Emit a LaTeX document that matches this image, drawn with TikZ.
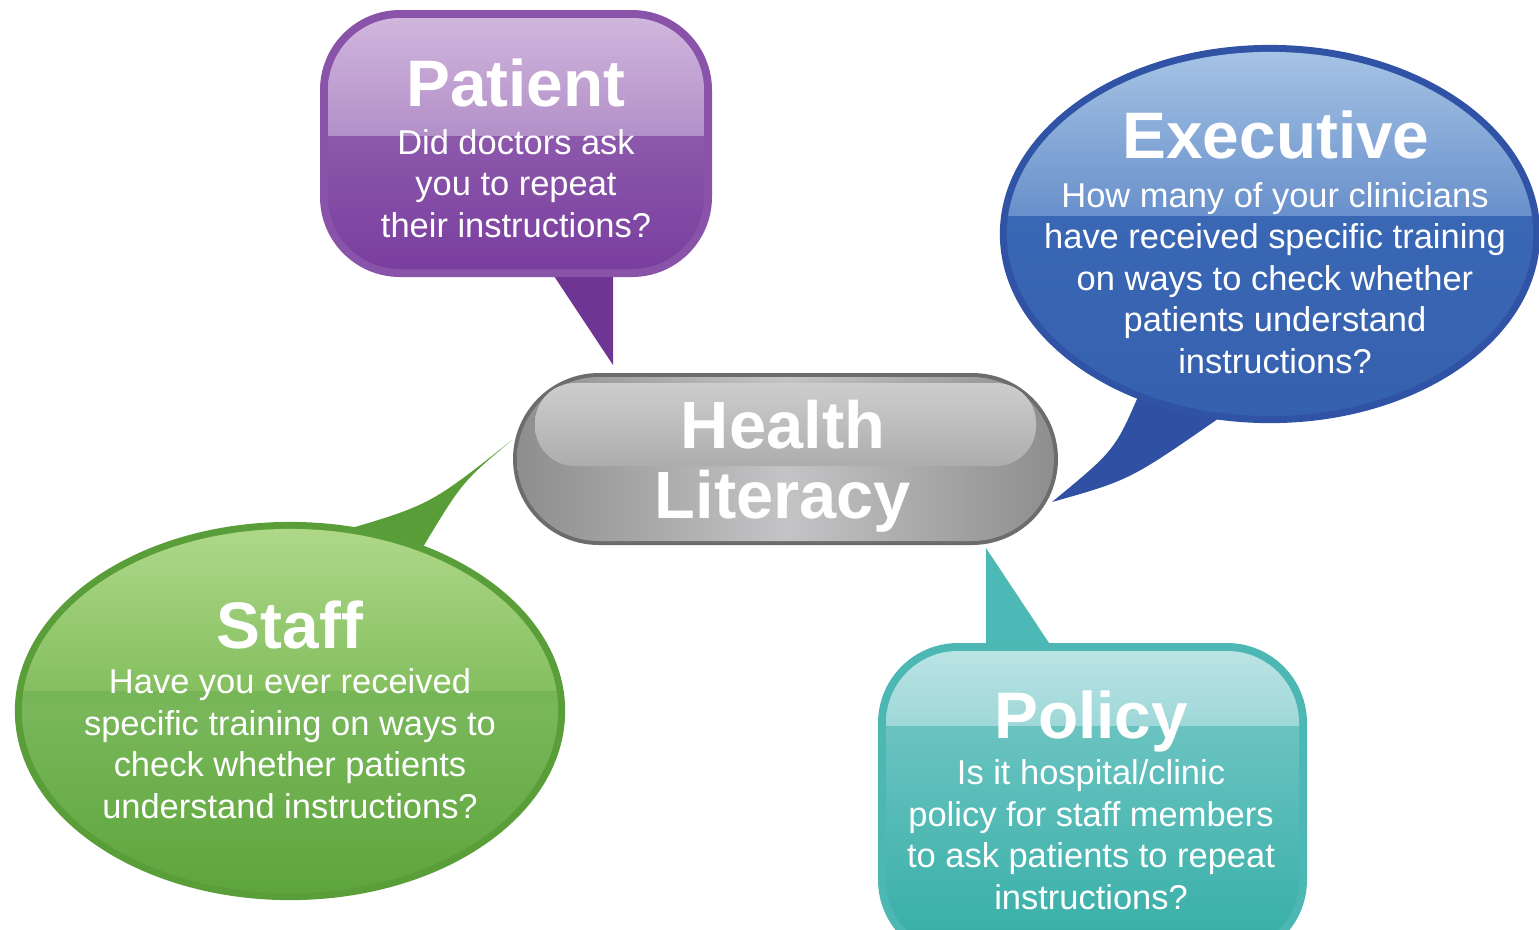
\documentclass[tikz,border=0pt]{standalone}
\usepackage{fontspec}
\setmainfont{Liberation Sans}
\usetikzlibrary{positioning}

\definecolor{patientrim}{HTML}{8953AA}
\definecolor{patienttop}{HTML}{D0B6DD}
\definecolor{patientmid}{HTML}{9C70B8}
\definecolor{patientbot}{HTML}{7A3E9E}
\definecolor{patienttail}{HTML}{6E3593}
\definecolor{execrim}{HTML}{3153A6}
\definecolor{exectop}{HTML}{A8C5E5}
\definecolor{execmid}{HTML}{3E6DBA}
\definecolor{execbot}{HTML}{3560AE}
\definecolor{exectail}{HTML}{2F50A3}
\definecolor{staffrim}{HTML}{5A9E3A}
\definecolor{stafftop}{HTML}{B0D98A}
\definecolor{staffmid}{HTML}{61AA3D}
\definecolor{staffbot}{HTML}{5CA53A}
\definecolor{stafftail}{HTML}{589D37}
\definecolor{policyrim}{HTML}{4DB8B3}
\definecolor{policytop}{HTML}{BBE3E4}
\definecolor{policymid}{HTML}{7CCACA}
\definecolor{policybot}{HTML}{35AEA6}
\definecolor{policytail}{HTML}{4DB9B6}
\definecolor{pillrim}{HTML}{6C6C6C}
\definecolor{pilledge}{HTML}{8E8E8E}
\definecolor{pillmid}{HTML}{C4C4C6}
\definecolor{pilltop}{HTML}{CDCDCD}
\definecolor{pillband}{HTML}{ADADAD}

\begin{document}
\begin{tikzpicture}[x=0.01cm,y=-0.01cm,
  title/.style={text=white,font=\fontsize{18.7}{19.9}\selectfont\bfseries,align=center,anchor=base},
  question/.style={text=white,font=\fontsize{9.8}{11.8}\selectfont,align=center,anchor=base}]
  \useasboundingbox (0,0) rectangle (1539,929);
  \clip (0,0) rectangle (1539,929);

  % tails
  \fill[patienttail] (550,270) -- (613,365) -- (613,270) -- cycle;
  \fill[exectail] (1140,392) .. controls (1115,450) .. (1052,502)
    .. controls (1130,480) .. (1222,416) -- cycle;
  \fill[stafftail] (338,532) .. controls (430,505) .. (512,440)
    .. controls (462,482) .. (420,552) -- cycle;
  \fill[policytail] (986,652) -- (986,548) -- (1055,652) -- cycle;

  % Patient
  \fill[patientrim,rounded corners=0.8cm] (320,10) rectangle (712,277);
  \begin{scope}
    \clip[rounded corners=0.72cm] (328,18) rectangle (704,269);
    \shade[top color=patientmid,bottom color=patientbot] (328,18) rectangle (704,269);
    \shade[top color=patienttop,bottom color=patientmid!55!patienttop] (328,18) rectangle (704,135);
  \end{scope}

  % Executive
  \fill[execrim] (1270,234) ellipse [x radius=2.7cm,y radius=1.89cm];
  \begin{scope}
    \clip (1270,234) ellipse [x radius=2.63cm,y radius=1.82cm];
    \shade[top color=execmid,bottom color=execbot] (1000,45) rectangle (1539,425);
    \shade[top color=exectop,bottom color=execmid!60!exectop] (1000,45) rectangle (1539,215);
  \end{scope}

  % Staff
  \fill[staffrim] (290,711) ellipse [x radius=2.75cm,y radius=1.89cm];
  \begin{scope}
    \clip (290,711) ellipse [x radius=2.68cm,y radius=1.82cm];
    \shade[top color=staffmid,bottom color=staffbot,middle color=staffmid!85!white] (15,522) rectangle (565,900);
    \shade[top color=stafftop,bottom color=staffmid!55!stafftop] (15,522) rectangle (565,690);
  \end{scope}

  % Policy
  \fill[policyrim,rounded corners=0.8cm] (878,643) rectangle (1307,960);
  \begin{scope}
    \clip[rounded corners=0.72cm] (886,651) rectangle (1299,952);
    \shade[top color=policymid,bottom color=policybot] (886,651) rectangle (1299,952);
    \shade[top color=policytop,bottom color=policymid!45!policytop] (886,651) rectangle (1299,725);
  \end{scope}

  % Health Literacy
  \fill[pillrim,rounded corners=0.86cm] (513,373) rectangle (1058,545);
  \shade[left color=pilledge,right color=pilledge,middle color=pillmid,rounded corners=0.82cm]
    (517,377) rectangle (1054,541);
  \shade[top color=pilltop,bottom color=pillband,rounded corners=0.4cm]
    (535,383) rectangle (1036,466);

  % texts (base = last line)
  \node[title] (patient) at (516,106) {Patient};
  \node[question] (patient-q) at (516,237) {Did doctors ask\\you to repeat\\their instructions?};
  \node[title] (executive) at (1276,158) {Executive};
  \node[question] (executive-q) at (1275,373) {How many of your clinicians\\have received specific training\\on ways to check whether\\patients understand\\instructions?};
  \node[title] (staff) at (290,648) {Staff};
  \node[question] (staff-q) at (290,818) {Have you ever received\\specific training on ways to\\check whether patients\\understand instructions?};
  \node[title] (policy) at (1091,738) {Policy};
  \node[question] (policy-q) at (1091,909) {Is it hospital/clinic\\policy for staff members\\to ask patients to repeat\\instructions?};
  \node[title,font=\fontsize{19}{19.9}\selectfont\bfseries] (health) at (783,518) {Health\\Literacy};
\end{tikzpicture}
\end{document}
